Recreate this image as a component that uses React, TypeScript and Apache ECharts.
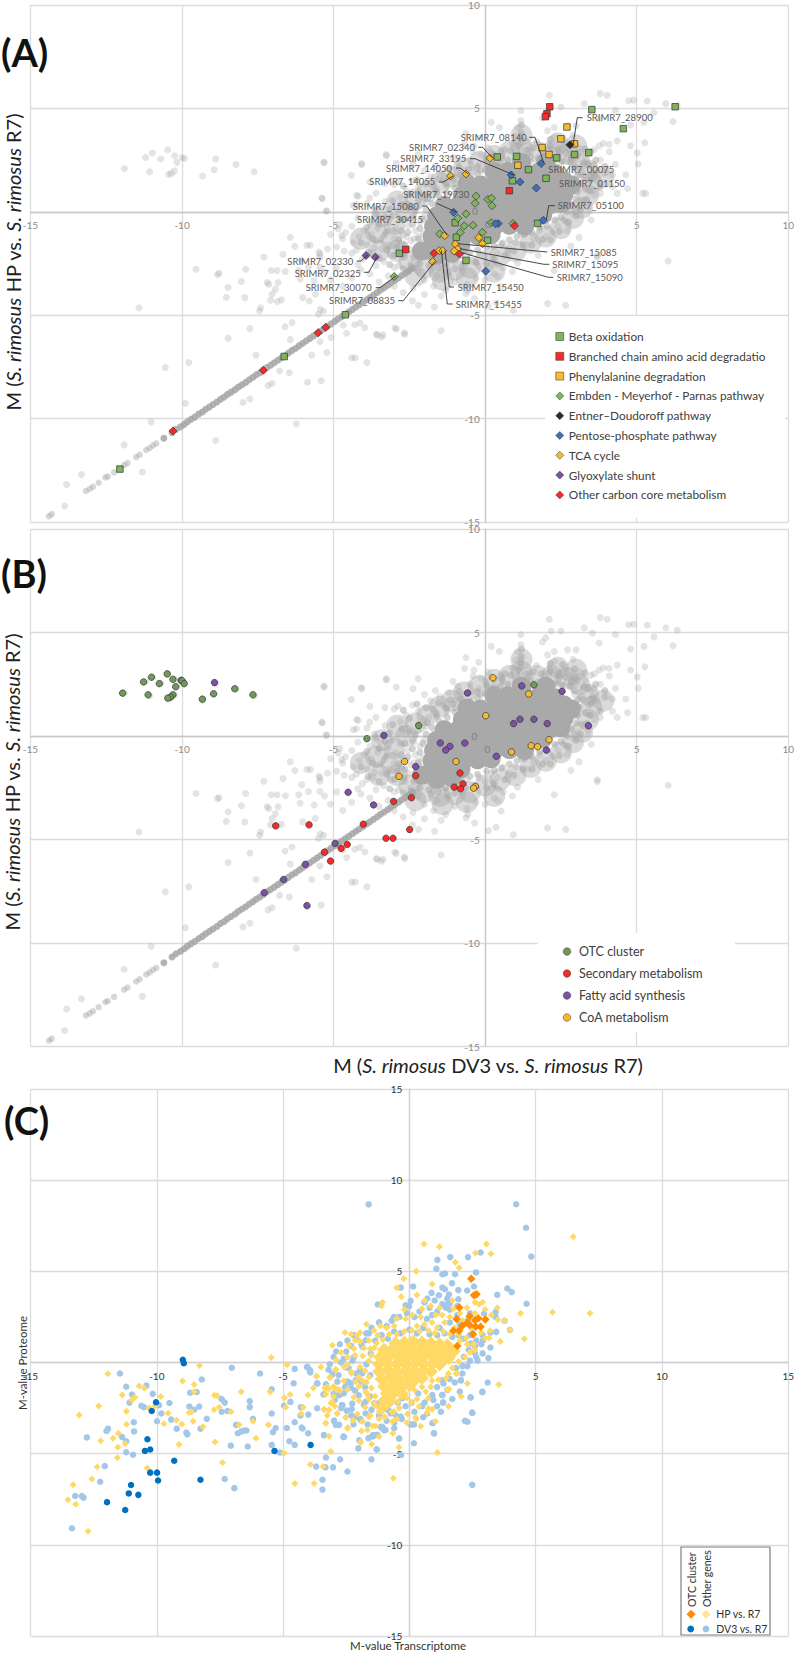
import React, { useEffect, useRef } from "react";
import * as echarts from "echarts";

type P = number[];

const FONT = "Lato";

// ---- shared grey background of panels A and B -------------------------------
const greyDiagonalLow: P[] = [
  [-14.39,-14.72],[-14.3,-14.62],[-13.17,-13.5],[-13.05,-13.4],[-12.94,-13.3],[-12.75,-13.1],[-12.53,-12.85],[-12.45,-12.8],[-12.24,-12.6],
  [-11.91,-12.25],[-11.8,-12.15],[-11.51,-11.86],[-11.4,-11.75],[-11.18,-11.52],[-11.07,-11.42],[-10.96,-11.3],[-10.85,-11.2],
];
const greyDiagonal: P[] = [
  [-10.6,-10.95],[-10.33,-10.68],
  [-10.2,-10.52],[-10.05,-10.4],[-9.93,-10.28],[-9.82,-10.15],[-9.7,-10.03],[-9.58,-9.93],[-9.45,-9.78],[-9.33,-9.68],[-9.22,-9.55],[-9.1,-9.44],[-8.98,-9.32],
  [-8.85,-9.2],[-8.73,-9.06],[-8.61,-8.96],[-8.5,-8.83],[-8.38,-8.72],[-8.25,-8.6],[-8.14,-8.47],[-8.02,-8.36],[-7.9,-8.25],[-7.78,-8.12],[-7.66,-8.0],
  [-7.55,-7.88],[-7.43,-7.78],[-7.31,-7.65],[-7.2,-7.53],[-7.08,-7.42],[-6.96,-7.3],[-6.84,-7.18],[-6.72,-7.06],[-6.6,-6.95],[-6.49,-6.83],[-6.37,-6.7],
  [-6.25,-6.6],[-6.13,-6.47],[-6.02,-6.36],[-5.9,-6.24],[-5.78,-6.12],[-5.66,-6.0],[-5.55,-5.89],[-5.43,-5.77],[-5.31,-5.65],[-5.2,-5.54],[-5.08,-5.42],
  [-4.96,-5.3],[-4.85,-5.18],[-4.73,-5.07],[-4.61,-4.95],[-4.5,-4.84],[-4.38,-4.72],[-4.26,-4.6],[-4.15,-4.49],[-4.03,-4.37],[-3.91,-4.25],[-3.8,-4.14],
  [-3.68,-4.02],[-3.56,-3.9],[-3.45,-3.78],[-3.33,-3.67],[-3.21,-3.55],[-3.1,-3.43],[-2.98,-3.32],[-2.86,-3.2],[-2.75,-3.08],[-2.63,-2.97],[-2.51,-2.85],[-2.4,-2.73],
];

const greyCore: P[] = [
  [0.75,1.95],[1.25,2.0],[1.8,1.95],[2.3,1.85],[1.2,2.4],[2.0,2.4],[0.3,1.95],[-0.6,1.35],[2.85,1.3],
  [-0.15,1.3],[0.35,1.4],[0.85,1.45],[1.35,1.4],[1.85,1.45],[2.35,1.4],[2.6,1.5],
  [-0.75,0.8],[-0.25,0.85],[0.25,0.9],[0.75,0.85],[1.25,0.9],[1.75,0.85],[2.25,0.9],[2.6,0.85],
  [-1.35,0.3],[-0.85,0.35],[-0.35,0.3],[0.15,0.35],[0.65,0.3],[1.15,0.35],[1.65,0.3],[2.15,0.35],[2.5,0.4],
  [-1.6,-0.2],[-1.1,-0.15],[-0.6,-0.2],[-0.1,-0.15],[0.4,-0.2],[0.9,-0.15],[1.4,-0.2],[1.9,-0.15],
  [-1.7,-0.7],[-1.2,-0.65],[-0.7,-0.7],[-0.2,-0.65],[0.3,-0.7],[0.8,-0.65],[1.3,-0.7],
  [-1.75,-1.2],[-1.25,-1.15],[-0.75,-1.2],[-0.25,-1.15],[0.2,-1.1],
  [-1.7,-1.65],[-1.25,-1.65],[-0.8,-1.6],[-2.1,-1.9],[-1.6,-2.1],[-1.1,-2.0],
];
// broad haze around the solid core, where single points can no longer be told apart
const greyHalo: P[] = [
  [-2.6,0.0],[-2.3,0.6],[-1.9,1.0],[-1.5,1.4],[-1.1,1.7],[-0.7,2.1],[-0.2,2.4],[0.3,2.7],[0.8,2.9],[1.2,3.1],[1.7,2.9],[2.2,2.9],[2.7,2.8],[3.1,2.5],[3.4,2.0],[3.5,1.4],[3.4,0.8],[3.2,0.2],[2.9,-0.3],[2.5,-0.8],[2.0,-1.2],[1.5,-1.5],[1.0,-1.9],[0.5,-2.1],[0,-2.4],[-0.5,-2.7],[-1.0,-2.8],[-1.5,-2.9],[-2.0,-2.7],[-2.5,-2.4],[-2.9,-1.9],[-3.1,-1.3],[-3.0,-0.6],
  [-3.6,-1.0],[-3.5,-1.9],[-3.4,-0.2],[-2.9,0.5],[-4.1,-1.3],[1.2,3.7],[2.4,3.3],[3.0,3.2],[3.9,1.7],[0.3,-2.9],[-0.6,-3.2],[-1.4,-3.3],[-2.3,-3.1],
];

const greyCloud: P[] = [
  // OTC group, upper left
  [-11.9,2.09],[-11.2,2.63],[-10.98,2.84],[-10.7,2.55],[-10.47,3.0],[-10.24,2.71],[-10.17,2.39],[-10,2.63],[-9.92,2.58],[-11.07,1.94],[-10.25,1.98],[-10.36,1.85],[-10.44,1.81],[-9.32,1.73],[-8.94,2.03],[-8.89,2.55],[-8.22,2.29],[-7.62,1.94],
  // far outliers, lower left
  [-11.42,-4.64],[-10.55,-7.53],[-9.78,-7.29],[-9.89,-9.26],[-11.02,-10.16],[-8.89,-11.06],[-11.91,-11.27],[-11.31,-12.58],[-13.32,-12.7],[-13.81,-13.19],[-13.87,-14.23],
  [-9.54,-2.78],[-8.78,-2.97],[-8.83,-3.03],[-7.9,-2.78],[-7.3,-2.19],[-6.43,-1.24],[-6.28,-1.67],[-6.67,-2.06],[-5.88,-1.62],[-5.77,-1.62],[-5.45,-2.03],[-5.48,-1.95],[-5.45,-2.19],
  [-8.04,-3.37],[-8.48,-3.66],[-8.54,-4.13],[-7.93,-4.15],[-7.19,-3.42],[-7.14,-3.5],[-6.83,-3.42],[-6.92,-3.74],[-7.03,-3.99],[-7.08,-4.28],[-6.72,-4.26],[-6.86,-4.34],[-7.41,-4.64],[-7.44,-4.8],
  [-7.06,-2.84],[-6.86,-2.84],[-6.59,-2.89],[-6.15,-2.84],[-6.1,-3.25],[-5.83,-2.68],[-6.05,-2.35],[-5.45,-2.68],[-5.64,-3.33],[-6.02,-4.15],[-5.8,-4.31],[-5.6,-3.99],[-5.44,-4.72],[-5.33,-4.8],[-5.5,-4.95],
  [-7.76,-5.65],[-8.48,-6.11],[-7.56,-6.93],[-6.6,-5.56],[-6.37,-5.36],[-6.43,-6.18],[-5.45,-6.27],[-5.72,-6.93],[-5.22,-6.8],[-5.08,-6.08],
  [-6.78,-7.7],[-6.46,-7.78],[-5.41,-8.17],[-5.86,-8.24],[-7.03,-8.3],[-7.16,-8.4],[-7.76,-9.05],[-7.99,-9.22],[-6.23,-10.25],[-4.4,-7.06],[-4.29,-7.06],[-3.9,-7.29],[-3.56,-5.95],[-3.37,-5.95],[-2.98,-5.62],[-4.57,-5.87],[-4.3,-5.46],[-4.13,-5.38],[-4.68,-5.49],
  // top of the cloud
  [-5.31,2.37],[-4.07,2.29],[-3.26,2.71],[-5.37,0.64],[-5.22,0.05],[-4.19,0.75],[-4.25,0.35],[-3.81,0.67],[-3.65,0.1],
  // upper right tail
  [6.34,5.11],[5.96,5.23],[5.35,5.36],[4.9,5.4],[4.74,5.37],[4.3,4.9],[5.57,4.79],[5.24,4.33],[4.8,4.2],[6.2,4.36],[5.27,3.34],[5.02,2.85],[5.05,2.31],[4.8,3.19],[4.36,3.43],[4.09,3.27],[3.76,3.19],[3.8,0.89],[4.36,0.89],[4.7,1.13],[5.3,0.89],[5.2,0.89],[4.64,1.79],[4.2,1.79],[3.93,1.87],[3.6,2.28],[3.49,1.76],[3.25,1.76],[3.49,2.93],[3.76,4.49],[3.54,4.98],[3.27,5.23],[3.8,5.72],[4.03,5.64],[2.12,5.64],[3,4.16],[2.72,4.16],[2.5,5.07],[2.18,5.07],[2.0,4.74],[1.89,4.54],[2.28,4.08],[2.06,3.92],[1.18,4.9],[1.18,4.41],[1.07,4.08],[1.02,3.67],[0.47,4.08],[0.2,4.33],[-0.63,3.79],[-0.21,3.56],[-0.37,3.18],[-0.68,3.26],[-0.15,2.8],[-1.06,2.64],[-1.64,2.2],[-2.0,2.0],[-2.21,2.77],[-3.26,2.77],[-4.08,2.33],[-5.32,2.41],[-4.41,1.76],[-3.8,1.43],[-3.31,1.37],[-2.93,2.36],[-2.38,2.28],[-2.88,1.45],[-5.39,0.67],[-5.25,0.03],[-4.24,0.8],[-4.35,0.3],[-4.85,-0.82],[-4.73,-1.15],
  // lower right
  [6.04,-2.38],[3.7,-2.11],[3.7,-2.2],[3.1,-1.25],[2.83,-1.66],[2.28,-2.84],[2.66,-4.52],[2.06,-4.44],[0.93,-4.77],[0.36,-4.41],[0.11,-4.57],[-0.35,-4.2],[-0.57,-3.79],[-0.63,-3.95],[0.53,-3.62],[0.42,-3.13],[0.42,-2.56],[1.07,-2.48],[1.75,-2.1],[-1.45,-5.75],[-2.65,-5.92],[-2.67,-5.85],[-3.59,-5.92],[-3.42,-6.05],[-2.93,-5.67],[-3.97,-5.6],[-1.67,-4.6],[-2.2,-4.52],[-2.38,-3.7],[-1.45,-4.07],
  // lower left of the cloud
  [-4.8,-0.6],[-4.6,-1.0],[-4.7,-1.3],[-4.4,-0.7],[-4.2,-0.3],[-4.35,-1.5],[-4.9,-1.7],[-4.65,-1.9],[-4.4,-2.0],[-4.15,-1.2],[-4.0,-0.9],[-3.9,-1.6],[-3.8,-0.5],[-3.75,-1.1],[-4.25,-1.85],[-4.05,-2.3],[-3.7,-2.0],[-3.6,-1.4],[-3.55,-0.8],[-3.45,-0.3],[-3.4,-1.8],[-3.35,-2.4],[-3.3,-1.1],[-3.2,-0.6],[-3.15,-1.6],[-3.1,-2.1],[-3.05,-0.2],[-3.0,-1.3],[-2.95,-0.8],[-2.9,-1.9],[-2.85,-2.6],[-2.8,-0.4],[-2.75,-1.5],[-2.7,-1.1],[-2.65,-2.2],[-2.6,0.1],[-2.55,-0.7],[-2.5,-1.8],[-2.45,-2.5],[-2.4,-0.2],[-2.35,-1.3],[-2.3,-0.9],[-2.25,-2.0],[-2.2,0.3],[-2.15,-0.5],[-2.1,-1.5],[-2.05,-1.05],[-2.0,-0.2],[-1.95,0.45],[-2.45,-1.4],[-2.55,-2.9],[-2.8,-1.8],[-3.0,-2.7],[-3.25,-0.95],[-3.45,-1.35],[-3.65,-1.75],[-3.9,-2.1],[-4.2,-2.55],[-3.6,-2.6],[-2.2,-1.2],[-2.35,-0.3],[-2.6,-1.2],
  // upper left of the cloud
  [-3.9,0.4],[-3.6,0.9],[-3.3,0.5],[-3.0,1.3],[-2.8,0.7],[-2.6,1.0],[-2.4,1.5],[-2.2,1.2],[-2.0,0.8],[-1.8,1.7],[-1.7,1.3],[-1.5,1.9],[-1.4,1.5],[-1.2,2.1],[-1.0,1.7],[-0.9,2.4],[-0.7,2.0],[-0.5,2.5],[-0.4,2.9],[-0.2,2.3],[0,2.6],[0.1,3.1],[0.3,2.5],[0.5,2.9],[0.7,2.3],[0.9,3.3],[1.0,2.7],[1.15,3.0],[1.2,3.7],[1.18,3.3],[1.22,2.6],[-1.85,0.9],[-1.6,1.1],[-1.25,1.2],[-1.0,1.35],[-0.7,1.55],[-0.4,1.75],[-0.15,1.95],
  // right of the cloud
  [1.5,2.9],[1.7,3.4],[1.9,2.6],[2.1,3.0],[2.3,3.6],[2.4,2.7],[2.6,3.2],[2.8,2.9],[2.9,3.7],[3.0,2.5],[3.1,3.1],[3.2,1.9],[3.3,2.7],[3.4,1.5],[3.5,2.2],[3.6,3.0],[3.7,1.7],[3.8,2.5],[3.9,3.3],[4.0,1.9],[4.1,2.9],[4.2,1.2],[4.3,2.3],[2.9,1.5],[3.0,0.9],[3.1,1.8],[2.8,0.4],[2.9,-0.1],[3.2,0.5],[3.3,1.1],[3.4,0.2],[3.5,-0.4],[3.6,0.8],[2.6,-0.4],[2.4,-0.7],[2.2,-1.0],[2.7,-0.9],[2.0,-1.2],[1.8,-0.9],[1.6,-1.3],[1.4,-1.6],[1.2,-1.1],[1.0,-1.5],[0.8,-1.8],[0.6,-1.5],[2.95,2.0],[2.7,2.6],[2.5,2.4],[2.25,2.5],[1.8,2.3],[1.5,2.4],[1.2,2.2],[2.9,1.1],[2.75,0.9],[3.05,0.2],[2.65,0.15],
  // under the cloud
  [0.4,-2.0],[0.2,-1.8],[0,-2.2],[-0.2,-2.0],[-0.4,-2.4],[-0.6,-2.1],[-0.8,-2.7],[-1.0,-2.4],[-1.2,-2.9],[-1.4,-2.6],[-1.6,-3.1],[-1.8,-2.8],[-2.0,-3.3],[-2.2,-2.9],[0.6,-2.7],[0.3,-3.0],[0.9,-2.9],[0.0,-3.3],[-0.3,-3.2],[-0.6,-3.5],[-1.0,-3.4],[-1.3,-3.8],[-1.7,-3.6],[-2.0,-4.0],[-2.4,-4.3],[-2.7,-3.9],[-3.0,-3.6],[-3.2,-3.1],[-3.5,-3.4],[-3.8,-3.0],[-4.1,-2.8],[-4.4,-3.2],[-4.7,-3.6],[-4.9,-2.7],[-5.1,-3.3],[-5.3,-2.9],[-5.2,-1.8],[-5.1,-1.1],
];
// second, denser layer of the haze that surrounds the solid core
const greyDense: P[] = [
  [-1.95,-2.15],[-1.6,-2.3],[-1.35,-2.15],[-1.05,-2.25],[-0.8,-2.1],[-0.5,-1.95],[-0.25,-1.85],[0.05,-1.7],[0.3,-1.65],[0.55,-1.55],[0.8,-1.35],[1.05,-1.2],[1.3,-1.1],[1.55,-1.0],[1.8,-0.75],[2.05,-0.7],[2.3,-0.4],[2.5,-0.25],[2.7,0.0],[2.85,0.35],[3.0,0.6],[3.05,1.0],[3.1,1.4],[3.05,1.75],[2.95,2.2],[2.8,2.4],[2.55,2.45],[2.3,2.5],[2.05,2.55],[1.75,2.6],[1.5,2.65],[1.25,2.7],[1.0,2.55],[0.75,2.5],[0.5,2.4],[0.25,2.3],[0.0,2.05],[-0.25,1.85],[-0.5,1.65],[-0.75,1.4],[-1.0,1.15],[-1.25,0.9],[-1.5,0.7],[-1.75,0.4],[-1.95,0.1],[-2.05,-0.35],[-2.15,-0.8],[-2.2,-1.3],[-2.25,-1.75],[-2.35,-2.2],
  [-2.5,0.2],[-2.65,-0.35],[-2.75,-0.9],[-2.85,-1.35],[-2.9,-1.7],[-3.0,-2.1],[-2.45,-2.65],[-2.15,-2.5],[-1.85,-2.6],[-1.55,-2.7],[-1.3,-2.5],[-1.0,-2.75],[-0.65,-2.5],[-0.3,-2.45],[0.05,-2.5],[0.3,-2.3],[0.65,-2.1],[0.95,-1.9],[1.25,-1.6],[1.55,-1.6],[1.9,-1.35],[2.15,-1.35],[2.45,-0.95],[2.75,-0.5],[3.0,-0.2],[3.15,0.1],[3.35,0.6],[3.45,1.0],[3.5,1.55],[3.55,1.9],[3.4,2.3],[3.25,2.4],[3.05,2.7],[2.85,2.65],[2.65,2.85],[2.4,3.0],[2.15,3.15],[1.85,3.0],[1.6,3.1],[1.35,3.0],[1.1,3.2],[1.17,3.55],[1.19,3.85],[1.2,4.2],[0.85,2.95],[0.55,2.7],[0.3,2.75],[0.05,2.4],[-0.25,2.15],[-0.55,2.05],[-0.8,1.8],[-1.05,1.55],[-1.3,1.35],[-1.6,0.95],[-1.9,0.65],[-2.2,0.55],[-2.3,0.05],[-2.4,-0.6],[-2.55,-1.0],[-2.65,-1.6],[-2.7,-2.0],
  [-3.3,-0.25],[-3.5,-0.6],[-3.7,-1.3],[-3.9,-0.75],[-4.1,-1.5],[-3.85,-1.95],[-3.5,-2.2],[-3.25,-1.85],[-3.15,-2.55],[-2.7,-2.75],[-3.6,-0.1],[-3.05,0.55],[-2.75,0.35],[-3.15,0.15],[-2.5,0.85],[-2.7,1.25],[-2.25,1.55],[-1.95,1.35],[-1.55,1.6],[-1.15,1.75],[-0.85,2.15],[0.2,2.85],[0.65,3.0],[3.8,1.2],[3.95,2.2],[3.65,2.5],[3.3,3.05],[2.95,3.25],[2.55,3.45],[2.15,3.5],
];

// ---- panel A ------------------------------------------------------------------
const betaOxidation: P[] = [[3.52,4.94],[6.27,5.08],[4.56,4.02],[3.42,2.86],[2.95,2.77],[2.36,2.61],[1.04,2.68],[0.4,2.65],[1.43,2.04],[2.01,1.62],[0.9,1.5],[1.73,-0.56],[-0.99,-0.53],[-0.95,-1.23],[0.08,-1.38],[-0.63,-2.35],[-2.83,-2.01],[-4.61,-4.98],[-6.63,-7.0],[-12.05,-12.44]];
const branchedChain: P[] = [[2.13,5.08],[2.04,4.74],[1.99,4.6],[0.8,1.02],[-2.62,-1.82]];
const phenylalanine: P[] = [[2.7,4.1],[2.5,3.53],[2.95,3.29],[1.88,3.11],[2.11,2.77],[1.08,2.25]];
const emp: P[] = [[-0.3,0.76],[-0.33,0.41],[0.09,0.6],[0.21,0.66],[0.23,0.29],[-0.63,-0.1],[-0.9,-0.31],[-0.69,-0.68],[-0.4,-0.65],[-0.82,-1.0],[-0.09,-0.99],[0.2,-0.53],[0.92,-0.57],[-1.5,-1.07],[-3.0,-3.13]];
const entnerDoudoroff: P[] = [[2.8,3.24]];
const pentose: P[] = [[1.85,2.33],[0.86,1.78],[1.15,1.44],[1.69,1.15],[1.92,-0.41],[-1.04,-0.02],[0.43,-0.57],[0.34,-0.58],[0.02,-2.87]];
const tca: P[] = [[0.16,2.59],[-0.63,1.83],[-1.14,1.73],[-1.33,-1.15],[-0.21,-1.25],[-0.09,-1.54],[-0.98,-1.56],[-0.91,-1.8],[-1.02,-1.9],[-1.52,-1.88],[-1.4,-1.88],[-1.73,-2.41]];
const glyoxylate: P[] = [[-3.93,-2.11],[-3.62,-2.19]];
const otherCarbon: P[] = [[0.97,-0.68],[-1.69,-2.01],[-0.85,-2.04],[-10.3,-10.6],[-7.32,-7.66],[-5.51,-5.85],[-5.26,-5.58]];

// ---- panel B ------------------------------------------------------------------
const otcCluster: P[] = [[-11.96,2.07],[-11.27,2.61],[-11.01,2.84],[-10.75,2.53],[-10.49,3.0],[-10.3,2.74],[-10.21,2.38],[-10.03,2.69],[-10.0,2.67],[-9.93,2.53],[-11.12,1.99],[-10.3,1.99],[-10.38,1.88],[-10.47,1.83],[-9.33,1.78],[-8.96,2.04],[-8.26,2.28],[-7.66,1.99],[-3.9,-0.13],[-2.19,0.5],[1.61,2.47]];
const secondaryMetabolism: P[] = [[-6.91,-4.34],[-5.81,-4.29],[-5.3,-5.61],[-5.1,-6.04],[-4.75,-5.43],[-4.55,-5.24],[-4.02,-4.26],[-3.02,-3.16],[-2.43,-2.98],[-2.29,-1.92],[-3.27,-4.94],[-3.04,-4.94],[-2.49,-4.52],[-0.83,-1.79],[-0.73,-2.31],[-1.02,-2.47],[-0.81,-2.55]];
const fattyAcid: P[] = [[-8.93,2.58],[-3.34,0.03],[-4.52,-2.72],[-3.68,-3.33],[-4.95,-5.19],[-5.93,-6.2],[-6.65,-6.93],[-7.29,-7.57],[-5.88,-8.19],[-0.58,2.08],[1.21,2.42],[2.54,2.16],[3.41,0.5],[2.05,0.6],[1.61,0.81],[1.15,0.81],[0.94,0.6],[2.02,-0.68],[0.37,-0.98],[-0.67,-0.34],[-1.16,-0.5],[-1.3,-0.68],[-1.48,-0.34],[-2.29,-1.48]];
const coaMetabolism: P[] = [[0.26,2.81],[1.44,2.03],[0.02,0.98],[2.11,-0.18],[1.52,-0.47],[1.73,-0.52],[0.87,-0.77],[-0.96,-1.23],[-2.66,-1.23],[-2.84,-1.95],[-0.32,-2.44],[-0.38,-2.52]];

// ---- panel C ------------------------------------------------------------------
const dv3Other: P[] = [
  [-11.46,-0.6],[-11.21,-1.33],[-10.41,-1.27],[-10.98,-1.76],[-10.16,-1.72],[-11.08,-2.2],[-10.61,-2.37],[-10.51,-2.45],[-9.91,-2.34],[-9.5,-2.22],[-9.82,-2.8],[-9.99,-3.22],[-9.43,-3.13],[-9.21,-3.63],[-10.91,-3.28],[-10.9,-3.78],[-12.77,-4.11],[-11.93,-3.63],[-11.99,-3.76],[-11.37,-4.09],[-11.21,-4.32],[-11.21,-4.92],[-10.94,-5.06],[-12.06,-5.68],[-12.24,-6.54],[-13.23,-7.32],[-12.97,-7.32],[-12.9,-7.41],[-13.36,-9.09],
  [-8.83,-3.84],[-8.79,-3.94],[-8.27,-3.63],[-8.02,-3.09],[-8.71,-2.41],[-8.52,-2.59],[-8.32,-2.41],[-8.68,-1.66],[-8.42,-1.62],[-8.22,-0.93],[-7.43,-2.01],[-7.31,-2.2],[-7.43,-2.7],[-7.2,-2.66],[-7.03,-0.29],[-6.32,-2.12],[-6.32,-2.45],[-6.19,-3.09],[-6.86,-3.42],[-6.79,-3.88],[-6.65,-3.78],[-6.54,-3.73],[-6.45,-3.73],[-7.07,-4.56],[-6.4,-4.61],[-7.31,-6.39],[-6.93,-6.89],
  [-5.91,-0.6],[-5.45,-1.47],[-5.45,-2.8],[-5.29,-3.59],[-5.4,-3.82],[-4.85,-3.59],[-4.54,-0.35],[-4.05,-0.25],[-3.94,-0.41],[-3.92,-0.54],[-4.58,-1.14],[-4.71,-2.16],[-4.96,-2.37],[-4.54,-3.28],[-4.26,-3.57],[-4.0,-2.86],[-4.31,-2.9],[-4.3,-2.45],[-3.65,-1.14],[-3.65,-2.51],[-4.75,-4.32],[-4.54,-4.52],[-4.01,-3.88],[-5.45,-4.52],[-5.12,-4.94],[-3.38,-3.98],[-2.6,-4.09],[-3.3,-5.21],[-3.69,-5.71],[-3.32,-5.75],[-3.02,-5.75],[-2.74,-5.31],[-2.45,-5.98],[-3.44,-6.43],[-3.44,-6.97],[-1.5,-5.31],[-2.02,-4.71],[-1.29,-4.77],[-1.98,-4.27],[-1.62,-4.15],[-1.07,-3.53],[-1.4,-3.98],
  [-1.61,8.67],[4.23,8.68],[4.62,7.39],[4.83,5.81],[2.82,6.03],[2.32,5.78],[1.62,5.78],[1.11,5.63],[1.07,5.14],[1.31,4.84],[1.41,4.88],[1.81,4.84],[2.64,4.94],[1.69,4.35],[1.31,4.11],[1.41,4.02],[0.15,4.17],[-0.34,4.11],[2.56,4.17],[1.94,3.97],[2.29,3.95],[0.88,3.82],[0.71,3.51],[1.17,3.69],[1.57,3.73],[1.94,3.47],[3.48,3.71],[3.88,4.06],[4.05,3.86],[4.64,3.22],[-1.25,3.18],[0.05,3.38],[-0.15,3.14],[-0.01,3.09],[1.5,3.18],[1.6,3.24],[1.44,3.0],[3.42,2.78],[3.42,2.5],[2.96,2.69],[3.98,1.79],[3.77,2.29],[3.44,1.68],[3.21,1.65],[2.92,1.22],[3.21,0.82],[3.13,0.24],[2.59,0.53],[2.16,0.31],[2.43,1.04],
  [2.04,-0.99],[2.89,-1.63],[2.43,-1.92],[1.33,-2.21],[1.31,-1.79],[2.49,-2.76],[2.2,-3.2],[2.3,-3.25],[0.98,-3.89],[0.94,-3.31],[0.18,-3.4],[0.05,-3.4],[-4.04,-0.24],[-3.93,-0.51],[-3.64,-1.15],[-2.41,-1.08],[-2.78,-1.79],[-2.65,-2.34],[-2.26,-2.25],[-1.73,-2.8],[-2.98,-3.2],[-3.38,-3.99],[-4.23,-3.62],[-1.93,-3.16],[-1.13,-3.53],[-1.0,-3.71],[-1.46,-3.99],[-0.41,-4.17],[-2.59,-4.08],[-0.74,-2.8],[-0.54,-2.89],[0.91,-1.79],[1.31,-0.97],[-1.86,0.86],[-1.53,0.49],[-2.19,0.31],[-1.73,1.22],[-0.61,2.5],
  [-2.52,-0.26],[-2.45,-1.05],[-2.32,-1.14],[-2.12,-0.96],[-1.86,-0.59],[-2.78,-1.78],[-2.67,-2.33],[-2.48,-2.64],[-2.28,-2.55],[-1.73,-2.15],[-1.4,-2.24],[-0.74,-1.87],[-0.28,-1.96],[-0.34,-2.97],[0.12,-3.39],[0.91,-3.33],[0.97,-3.88],[-0.4,-4.17],[0.18,-4.43],[-1.44,-4.06],[-1.26,-3.97],[-1.07,-3.61],[-0.94,-3.7],[-2.61,-4.06],[-2.98,-3.19],[-2.91,-3.42],[-2.78,-3.42],[-2.21,-3.39],[-1.94,-3.1],[1.34,-2.18],[1.3,-1.78],[2.04,-0.96],[2.89,-1.6],[2.42,-1.91],[2.49,-2.75],[-1.29,-4.76],[-0.33,-5.07],[2.49,-6.71],
  // denser ring round the core
  [-2.6,0.2],[-2.4,-0.3],[-2.1,-0.6],[-2.8,-0.7],[-2.3,-1.4],[-2.0,-1.8],[-1.8,-2.3],[-1.5,-2.6],[-1.2,-2.9],[-0.9,-3.2],[-0.6,-3.3],[-0.3,-3.1],[0.2,-2.7],[0.5,-2.4],[0.7,-2.8],[1.1,-2.4],[1.5,-1.5],[1.8,-1.1],[2.1,-0.6],[2.3,-0.2],[2.7,0.1],[2.9,0.5],[2.6,0.9],[2.9,1.5],[2.5,1.6],[2.3,2.3],[1.9,2.6],[1.6,2.9],[1.3,3.2],[1.0,3.4],[0.8,3.0],[0.9,2.6],[0.6,3.3],[0.7,2.4],[0.4,2.8],[0.2,2.5],[-0.1,2.7],[-0.4,2.5],[-0.7,2.3],[-0.9,2.0],[-1.2,2.2],[-1.5,1.9],[-1.7,1.6],[-2.1,1.3],[-2.3,0.9],[-2.5,0.6],[-3.0,0.3],[-3.2,-0.4],[-3.3,-1.2],[-3.0,-1.7],[-2.6,-1.7],[-2.7,-2.5],[-2.3,-2.9],[1.2,1.9],[1.6,2.2],[2.0,2.1],[2.4,2.7],[1.9,3.1],[1.5,3.5],[1.1,2.8],
  [-2.9,0.6],[-2.75,1.0],[-2.45,1.2],[-2.2,1.5],[-1.9,1.0],[-1.6,1.6],[-1.35,1.2],[-1.1,1.5],[-0.85,1.3],[-0.6,1.7],[-0.35,1.6],[0,1.8],[0.3,1.6],[0.55,1.9],[0.8,1.55],[1.1,1.5],[1.4,1.6],[1.7,1.4],[1.95,1.5],[2.15,1.3],[2.4,1.5],[2.65,1.2],[2.85,1.0],[2.35,0.7],[2.65,0.3],[2.4,0.1],[2.1,-0.2],[1.85,-0.3],[1.6,-0.9],[1.35,-1.15],[1.1,-1.35],[0.95,-2.05],[0.6,-2.2],[0.35,-1.7],[0.1,-2.2],[-0.15,-2.4],[-0.45,-2.2],[-0.85,-2.6],[-1.25,-2.25],[-1.55,-1.85],[-1.75,-1.35],[-1.9,-1.05],[-2.15,-1.55],[-2.55,-1.35],[-2.85,-1.05],[-3.05,-0.65],[-3.15,-0.1],[-2.7,0.0],[-2.25,0.1],[-1.95,-0.4],[-1.7,-0.1],[-1.55,-0.7],[-2.95,-2.05],[-3.4,-1.75],[-2.15,-3.0],[-1.65,-3.4],[-0.6,-3.6],[0.55,-3.0],[1.25,-2.7],[1.7,-2.0],[2.0,-1.6],[3.1,-1.1],
];
const hpOther: P[] = [
  [-11.94,-0.62],[-10.7,-1.29],[-10.49,-1.41],[-11.37,-1.78],[-10.87,-1.91],[-10.99,-2.07],[-9.84,-1.87],[-12.3,-2.39],[-13.07,-2.88],[-11.2,-2.68],[-10.3,-2.49],[-10.07,-2.39],[-9.55,-2.78],[-9.22,-3.17],[-9.01,-3.38],[-9.72,-3.36],[-11.2,-3.38],[-11.52,-3.88],[-11.73,-4.15],[-12.22,-4.29],[-11.25,-4.44],[-11.54,-4.65],[-11.56,-5.23],[-12.36,-5.73],[-12.57,-6.39],[-13.31,-6.7],[-13.52,-7.53],[-13.21,-7.78],[-12.72,-9.25],[-10.38,-5.79],[-9.12,-4.5],
  [-8.31,-0.17],[-8.98,-1.02],[-8.52,-1.2],[-8.52,-1.6],[-8.62,-2.7],[-8.72,-2.74],[-8.56,-3.22],[-8.17,-3.53],[-7.69,-4.36],[-7.72,-1.8],[-7.6,-1.83],[-7.73,-2.59],[-7.53,-2.45],[-7.06,-2.7],[-6.66,-1.6],[-6.74,-3.42],[-7.4,-5.48],[-6.19,-3.22],[-6.07,-4.15],[-5.58,-3.42],[-5.51,-1.6],[-5.47,0.27],[-4.84,-0.12],[-4.95,-1.93],[-4.72,-1.76],[-4.89,-2.45],[-4.29,-2.8],[-4.2,-2.45],[-4.02,-1.78],[-3.67,-0.75],[-4.96,-4.98],[-4.53,-6.64],[-3.92,-5.6],[-3.77,-6.64],[-3.42,-5.71],[-3.11,-4.88],[-3.18,-4.05],[-3.31,-3.32],[-2.86,-2.8],[-2.52,-3.01],[-2.23,-3.17],[-2.44,-3.57],[-1.49,-4.48],[-1.93,-4.4],[-0.63,-6.35],[-3.34,-1.41],[-3.25,-1.35],[-3.01,-1.35],[-2.92,-1.45],[-3.15,-0.83],[-2.92,-0.41],[-2.52,-0.17],[-3.18,-2.59],[-3.38,-2.59],[-3.05,-2.18],
  [-3.68,-0.74],[-3.14,-0.81],[-3.33,-1.42],[-3.2,-1.47],[-3.0,-1.32],[-2.81,-1.47],[-3.31,-1.74],[-3.0,-1.87],[-2.91,-0.37],[-2.58,-0.23],[-2.45,-0.14],[-2.29,-0.59],[-2.12,-1.05],[-1.99,-1.32],[-1.73,-1.6],[-3.37,-2.57],[-3.18,-2.6],[-3.11,-2.24],[-2.85,-2.79],[-2.52,-3.0],[-3.31,-3.33],[-2.06,-2.82],[-2.23,-3.15],[-2.45,-3.61],[-1.86,-3.24],[-1.59,-2.97],[-1.46,-3.48],[-1.66,-3.7],[-1.33,-3.48],[-1.2,-4.06],[-0.67,-3.24],[-0.65,-3.88],[-1.0,-2.97],[-1.03,-2.55],[-0.61,-2.69],[-0.08,-2.82],[0.25,-3.0],[0.38,-2.42],[0.75,-2.51],[0.91,-2.57],[0.74,-1.96],[1.57,-1.47],[1.9,-0.59],[1.04,-3.24],[1.11,-4.94],[-0.41,-4.65],[-1.92,-4.34],
  // upper right
  [0.58,6.5],[1.19,6.35],[3.05,6.5],[3.23,5.97],[2.62,6.0],[1.82,5.5],[1.97,5.2],[0.27,5.0],[-0.22,4.6],[0.9,4.3],[-0.5,4.1],[-0.32,3.6],[-1.1,3.1],[-1.06,3.3],[1.2,3.0],[1.7,3.4],[2.28,3.0],[2.6,3.3],[2.9,3.3],[2.76,3.2],[3.48,3.0],[4.4,2.7],[5.67,2.75],[7.15,2.7],[4.55,1.3],[3.6,1.15],[3.0,1.35],[3.16,1.35],[3.98,1.8],[3.77,2.29],[3.25,2.6],[3.0,2.9],
  [6.49,6.9],[0.3,3.7],[0.6,3.4],[0.85,3.1],[0.5,2.95],[0.1,2.6],[-0.2,2.9],[-0.5,2.4],[1.05,2.6],[1.6,2.5],[1.4,2.2],[2.0,2.7],[2.35,2.5],[2.6,2.7],[1.1,1.9],[1.8,1.9],[2.0,1.2],[2.3,1.0],[2.6,0.7],[-1.7,2.1],[-1.95,1.65],[-2.55,1.65],[-2.3,1.55],[-2.05,1.5],[-1.4,1.75],[-1.25,1.5],[-1.6,1.2],[-2.4,0.95],[-2.2,0.75],[-1.8,0.8],[-1.4,0.8],[-1.5,0.4],[-1.15,2.0],[-0.9,1.9],[-0.6,2.0],[0.6,2.1],[0.3,2.0],[0.9,2.2],
  [3.54,-1.2],[1.5,-1.5],[1.55,-0.6],[1.85,-0.6],[2.3,-1.15],[0.9,-1.0],[0.65,-1.6],[0.3,-2.0],[0.7,-2.75],[0.27,-3.1],[-0.5,-3.1],[-0.7,-2.7],[-0.95,-3.0],[-1.2,-3.1],[-1.55,-2.9],[-1.75,-2.45],[-2.0,-2.1],[-2.2,-1.9],[-2.45,-1.5],[-2.6,-1.0],[-2.75,-1.55],[-2.95,-2.4],[-3.25,-2.9],[-2.0,-0.8],[-2.3,-0.5],[-1.95,-0.25],[-1.7,-1.1],[-1.6,-2.0],[-1.3,-2.4],[-0.4,-2.5],[0.1,-2.2],[-0.1,-3.3],
  [-2.7,0.55],[-2.45,0.3],[-2.15,0.4],[-1.85,0.35],[-1.6,0.1],[-1.75,-0.45],[-1.6,-0.8],[-1.85,-1.0],[-1.5,-1.4],[-1.65,-1.75],[-1.35,-1.85],[-1.4,-2.25],[-1.2,-2.7],[-0.45,-2.15],[-0.1,-1.95],[0.2,-1.5],[0.5,-1.35],[0.85,-1.35],[1.15,-0.95],[1.45,-0.85],[1.7,-0.3],[1.95,0.05],[2.2,0.3],[2.4,0.55],[2.55,1.0],[2.25,1.35],[1.95,1.55],[1.6,1.55],[1.35,1.7],[1.0,1.6],[0.75,1.75],[0.4,1.7],[0.1,1.75],[-0.2,1.7],[-0.5,1.55],[-0.8,1.55],[-1.05,1.25],[-1.3,1.05],[-1.55,0.75],[-1.95,1.15],[-2.15,1.2],[-0.15,2.4],[0.45,2.5],[1.3,2.6],[1.75,2.95],[2.1,2.3],[2.45,1.9],[2.85,1.65],[3.2,1.75],[3.5,2.35],[-2.9,0.15],[-3.05,0.95],[-3.5,-0.25],[-3.8,-1.4],[-1.9,-3.75],[0.45,-3.5],[1.55,-2.4],[2.05,-1.85],
];
const hpCore: P[] = [
  [-0.55,1.05],[-0.2,1.1],[0.15,1.15],[0.5,1.1],[0.85,1.05],[1.2,1.0],[1.5,0.95],
  [-1.0,0.7],[-0.65,0.75],[-0.3,0.7],[0.05,0.75],[0.4,0.7],[0.75,0.75],[1.1,0.7],[1.45,0.65],[1.75,0.6],
  [-1.15,0.3],[-0.8,0.35],[-0.45,0.3],[-0.1,0.35],[0.25,0.3],[0.6,0.35],[0.95,0.3],[1.3,0.3],[1.55,0.25],
  [-1.2,-0.1],[-0.85,-0.05],[-0.5,-0.1],[-0.15,-0.05],[0.2,-0.1],[0.55,-0.05],[0.9,-0.1],[1.2,-0.1],
  [-1.2,-0.5],[-0.85,-0.45],[-0.5,-0.5],[-0.15,-0.45],[0.2,-0.5],[0.55,-0.45],[0.85,-0.5],
  [-1.1,-0.9],[-0.75,-0.85],[-0.4,-0.9],[-0.05,-0.85],[0.25,-0.9],[0.5,-0.85],
  [-1.0,-1.3],[-0.65,-1.25],[-0.3,-1.3],[0.0,-1.25],
  [-0.9,-1.7],[-0.6,-1.65],[-0.3,-1.7],[-1.0,-2.1],[-0.75,-2.1],[-1.05,-2.45],
];
const dv3Otc: P[] = [[-8.97,0.15],[-8.93,-0.04],[-10.03,-2.18],[-10.2,-2.66],[-10.37,-4.21],[-10.47,-4.85],[-10.26,-4.77],[-9.31,-5.39],[-10.26,-6.04],[-9.99,-6.04],[-9.95,-6.47],[-8.27,-6.43],[-11.02,-6.72],[-11.11,-7.18],[-10.73,-7.26],[-11.97,-7.66],[-11.25,-8.09],[-5.34,-4.85],[-3.91,-4.52]];
const hpOtc: P[] = [[2.45,4.59],[2.66,3.75],[2.56,3.69],[1.98,3.02],[1.87,2.38],[2.39,2.54],[2.73,2.43],[3.01,2.36],[2.6,2.32],[2.3,2.18],[2.1,2.01],[2.82,1.96],[2.63,1.96],[2.39,2.05],[1.97,1.74],[1.74,1.74],[2.52,1.55],[1.9,0.91]];

const xTicksAB = { min: -15, max: 10, interval: 5 };
const yTicksAB = { min: -15, max: 10, interval: 5 };
const ticksC = { min: -15, max: 15, interval: 5 };

// leader-line callouts of panel A: [label, text left, text middle, line points]
const callouts: [string, number, number, number[][]][] = [
  ["SRIMR7_08140", 460.7, 137.7, [[529.3,137.3],[535,137.3],[543.7,162.7]]],
  ["SRIMR7_02340", 409, 147.3, [[478.3,147.3],[482.7,147.3],[492.7,158.3]]],
  ["SRIMR7_33195", 400.3, 158.7, [[470,158.7],[475,158.7],[514,175]]],
  ["SRIMR7_14050", 386, 168.3, [[456,168],[460,168],[468.3,174]]],
  ["SRIMR7_14055", 369.3, 181.3, [[439,182],[443.3,182],[453,176]]],
  ["SRIMR7_19730", 403.3, 194.7, [[436.7,203.3],[456,212]]],
  ["SRIMR7_15080", 352.7, 206.3, [[422.3,206],[426.7,206],[447,235.3]]],
  ["SRIMR7_30415", 357, 219.3, []],
  ["SRIMR7_02330", 287.3, 261, [[356.7,261],[361,261],[367.7,255]]],
  ["SRIMR7_02325", 294.7, 273.3, [[364,272.3],[368.7,272.3],[377.3,256.7]]],
  ["SRIMR7_30070", 305.7, 287.7, [[375.7,287.7],[380,287.7],[396,276]]],
  ["SRIMR7_08835", 329, 300.7, [[398.3,300.7],[403.3,300.7],[435,261.3]]],
  ["SRIMR7_15450", 457.7, 287, [[454,287],[449.3,287],[445,250.3]]],
  ["SRIMR7_15455", 455.7, 304, [[452.7,304],[447.3,304],[441.3,250.3]]],
  ["SRIMR7_15085", 550.7, 252, [[547.3,252],[457.7,243.7]]],
  ["SRIMR7_15095", 552.3, 264.3, [[549.3,264.3],[544,264.3],[460,248.7]]],
  ["SRIMR7_15090", 556.7, 277.3, [[553.3,277.3],[548.3,277.3],[461.7,252.7]]],
  ["SRIMR7_00075", 548.3, 169.7, []],
  ["SRIMR7_01150", 559, 183.3, []],
  ["SRIMR7_05100", 557.7, 205.3, [[555,205.7],[548.7,205.7],[546.3,220]]],
  ["SRIMR7_28900", 586.7, 117.3, [[582.7,117.7],[577.3,117.7],[573,145]]],
];

const GRID_A = { left: 30.5, top: 4.4, width: 762.5, height: 517.6 };
const GRID_B = { left: 30.5, top: 529, width: 762.5, height: 517.5 };
const GRID_C = { left: 30.5, top: 1089, width: 759.5, height: 547 };

function axis(gridIndex: number, range: any, color: string, lineColor: string, margin: number, hideZero: boolean) {
  return {
    type: "value", gridIndex, ...range,
    axisLine: { onZero: true, lineStyle: { color: lineColor, width: 1.3 } },
    axisTick: { show: false },
    axisLabel: {
      show: true, color, fontFamily: FONT, fontSize: 10, margin, hideOverlap: false, showMinLabel: true, showMaxLabel: true,
      formatter: (v: number) => (hideZero && v === 0 ? "" : String(v)),
    },
    splitLine: { show: true, lineStyle: { color: "#dcdcdc", width: 1.3 } },
  };
}

const EDGE = { borderColor: "#333333", borderWidth: 0.7 };

function marks(name: string, data: P[], grid: number, symbol: string, size: number, color: string) {
  return {
    name, type: "scatter", data, xAxisIndex: grid, yAxisIndex: grid, symbol, symbolSize: size, z: 3,
    itemStyle: { color, ...EDGE, opacity: 1 },
  };
}
function greySet(grid: number) {
  const g = (name: string, data: P[], size: number, opacity: number, color = "#a6a6a6") => ({
    type: "scatter", name: name + grid, data, xAxisIndex: grid, yAxisIndex: grid, symbolSize: size, itemStyle: { color, opacity },
  });
  return [
    g("halo", greyHalo, 22, 0.42),
    g("cloud", greyCloud, 7, 0.3),
    g("dense", greyDense, 7, 0.5),
    g("core", greyCore, 19, 1, "#a9a9a9"),
    g("low", greyDiagonalLow, 6.5, 0.45),
    g("diag", greyDiagonal, 7, 0.85),
  ];
}
function plain(name: string, data: P[], symbol: string, size: number, color: string) {
  return { type: "scatter", name, data, xAxisIndex: 2, yAxisIndex: 2, symbol, symbolSize: size, itemStyle: { color, opacity: 1 } };
}

const richM = (a: number) => ({
  a: { fontFamily: "Lato", fontSize: a, color: "#222222", lineHeight: 15 },
  i: { fontFamily: "Lato", fontSize: a, fontStyle: "italic", color: "#222222", lineHeight: 15 },
});

function title(x: number, y: number, text: string, size: number, rotation = 0) {
  return { type: "text", x, y, rotation, z: 6, style: { text, rich: richM(size), align: "center", verticalAlign: "middle", fill: "#222222" } };
}
function plainText(x: number, y: number, text: string, size: number, fill: string, extra: any = {}, group: any = {}) {
  return { type: "text", x, y, z: 6, ...group, style: { text, fontFamily: FONT, fontSize: size, fill, align: "left", verticalAlign: "middle", ...extra } };
}
function diamond(x: number, y: number, r: number, fill: string) {
  return { type: "polygon", z: 6, shape: { points: [[x, y - r], [x + r, y], [x, y + r], [x - r, y]] }, style: { fill } };
}

function buildGraphic() {
  const els: any[] = [];
  els.push({ type: "rect", z: 1, shape: { x: 545, y: 316, width: 240, height: 202 }, style: { fill: "#ffffff" } });
  els.push({ type: "rect", z: 1, shape: { x: 538, y: 933, width: 197, height: 99 }, style: { fill: "#ffffff" } });

  els.push(plainText(1, 52, "(A)", 38, "#111111", { fontWeight: "bold" }));
  els.push(plainText(1, 573, "(B)", 38, "#111111", { fontWeight: "bold" }));
  els.push(plainText(4, 1120, "(C)", 38, "#111111", { fontWeight: "bold" }));

  // zero labels stay visible on top of the dense cloud
  els.push(plainText(475, 211, "0", 10, "#808080", { align: "center" }));
  els.push(plainText(487.7, 224, "0", 10, "#808080", { align: "center" }));
  els.push(plainText(474.5, 735.5, "0", 10, "#808080", { align: "center" }));
  els.push(plainText(487.3, 749, "0", 10, "#808080", { align: "center" }));

  els.push(title(13, 262, "{a|M (}{i|S. rimosus}{a| HP vs. }{i|S. rimosus}{a| R7)}", 20, Math.PI / 2));
  els.push(title(12, 782, "{a|M (}{i|S. rimosus}{a| HP vs. }{i|S. rimosus}{a| R7)}", 20, Math.PI / 2));
  els.push(title(488, 1065, "{a|M (}{i|S. rimosus}{a| DV3 vs. }{i|S. rimosus}{a| R7)}", 20));

  els.push(plainText(22, 1363, "M-value Proteome", 11.5, "#333333", { align: "center" }, { rotation: Math.PI / 2 }));
  els.push(plainText(408, 1645, "M-value Transcriptome", 11.5, "#333333", { align: "center" }));

  for (const [label, x, y, pts] of callouts) {
    els.push(plainText(x, y, label, 9.5, "#595959"));
    if (pts.length) {
      els.push({ type: "polyline", z: 5, shape: { points: pts }, style: { stroke: "#333333", lineWidth: 0.9, fill: "none" } });
    }
  }

  // legend of panel C
  els.push({ type: "rect", z: 5, shape: { x: 681, y: 1547, width: 89, height: 88 }, style: { fill: "#ffffff", stroke: "#7f7f7f", lineWidth: 1.2 } });
  els.push(plainText(692, 1607, "OTC cluster", 10.5, "#333333", { align: "left" }, { rotation: Math.PI / 2 }));
  els.push(plainText(707, 1607, "Other genes", 10.5, "#333333", { align: "left" }, { rotation: Math.PI / 2 }));
  els.push(diamond(691, 1614.3, 4.5, "#ff8c00"));
  els.push(diamond(706, 1614.3, 4.5, "#ffe699"));
  els.push({ type: "circle", z: 6, shape: { cx: 690.7, cy: 1629, r: 3.4 }, style: { fill: "#0070c0" } });
  els.push({ type: "circle", z: 6, shape: { cx: 706, cy: 1629, r: 3.4 }, style: { fill: "#9dc3e6" } });
  els.push(plainText(716.3, 1614, "HP vs. R7", 10.5, "#333333"));
  els.push(plainText(716.3, 1629, "DV3 vs. R7", 10.5, "#333333"));
  return els;
}

export default function App() {
  const ref = useRef<HTMLDivElement>(null);
  useEffect(() => {
    const chart = echarts.init(ref.current!, undefined, { renderer: "svg" });
    chart.setOption({
      animation: false,
      backgroundColor: "#ffffff",
      grid: [GRID_A, GRID_B, GRID_C],
      xAxis: [
        axis(0, xTicksAB, "#8c8c8c", "#c8c8c8", -302.4, true),
        axis(1, xTicksAB, "#8c8c8c", "#c8c8c8", -302.5, true),
        axis(2, ticksC, "#333333", "#d0d0d0", -265.5, false),
      ],
      yAxis: [
        axis(0, yTicksAB, "#8c8c8c", "#c8c8c8", -449.2, true),
        axis(1, yTicksAB, "#8c8c8c", "#c8c8c8", -449.2, true),
        axis(2, ticksC, "#333333", "#d0d0d0", -371.8, false),
      ],
      legend: [
        {
          left: 550.5, top: 325, orient: "vertical", itemWidth: 8, itemHeight: 8, itemGap: 6.8,
          itemStyle: { borderWidth: 0.5 },
          textStyle: { fontFamily: FONT, fontSize: 11.8, color: "#404040", lineHeight: 13, width: 202, overflow: "truncate", ellipsis: "" },
          data: ["Beta oxidation", "Branched chain amino acid degradation", "Phenylalanine degradation", "Embden - Meyerhof - Parnas pathway", "Entner–Doudoroff pathway", "Pentose-phosphate pathway", "TCA cycle", "Glyoxylate shunt", "Other carbon core metabolism"],
        },
        {
          left: 558, top: 940, orient: "vertical", itemWidth: 14, itemHeight: 7.5, itemGap: 9,
          itemStyle: { borderWidth: 0.5 },
          textStyle: { fontFamily: FONT, fontSize: 12.5, color: "#404040", lineHeight: 13 },
          data: ["OTC cluster", "Secondary metabolism", "Fatty acid synthesis", "CoA metabolism"],
        },
      ],
      graphic: { elements: buildGraphic() },
      series: [
        ...greySet(0),
        marks("Beta oxidation", betaOxidation, 0, "rect", 6.5, "#7fb35f"),
        marks("Branched chain amino acid degradation", branchedChain, 0, "rect", 6.5, "#f72a2a"),
        marks("Phenylalanine degradation", phenylalanine, 0, "rect", 6.5, "#f7ba2c"),
        marks("Embden - Meyerhof - Parnas pathway", emp, 0, "diamond", 8, "#80b560"),
        marks("Entner–Doudoroff pathway", entnerDoudoroff, 0, "diamond", 8, "#2b2b2b"),
        marks("Pentose-phosphate pathway", pentose, 0, "diamond", 8, "#3f6fc4"),
        marks("TCA cycle", tca, 0, "diamond", 8, "#f7ba2c"),
        marks("Glyoxylate shunt", glyoxylate, 0, "diamond", 8, "#7c4fa8"),
        marks("Other carbon core metabolism", otherCarbon, 0, "diamond", 8, "#f72a2a"),
        ...greySet(1),
        marks("OTC cluster", otcCluster, 1, "circle", 6.5, "#6f9a58"),
        marks("Secondary metabolism", secondaryMetabolism, 1, "circle", 6.5, "#f72a2a"),
        marks("Fatty acid synthesis", fattyAcid, 1, "circle", 6.5, "#7c4fa8"),
        marks("CoA metabolism", coaMetabolism, 1, "circle", 6.5, "#f7ba2c"),
        plain("DV3 vs. R7 other", dv3Other, "circle", 6.5, "#a3c7e8"),
        plain("HP vs. R7 other", hpOther, "diamond", 7, "#ffd966"),
        plain("HP vs. R7 other core", hpCore, "diamond", 14, "#ffd966"),
        plain("DV3 vs. R7 OTC", dv3Otc, "circle", 6.5, "#0070c0"),
        plain("HP vs. R7 OTC", hpOtc, "diamond", 8.5, "#ff8c00"),
      ],
    });
    return () => chart.dispose();
  }, []);
  return <div ref={ref} style={{ position: "absolute", left: 0, top: 0, width: 797, height: 1653 }} />;
}
